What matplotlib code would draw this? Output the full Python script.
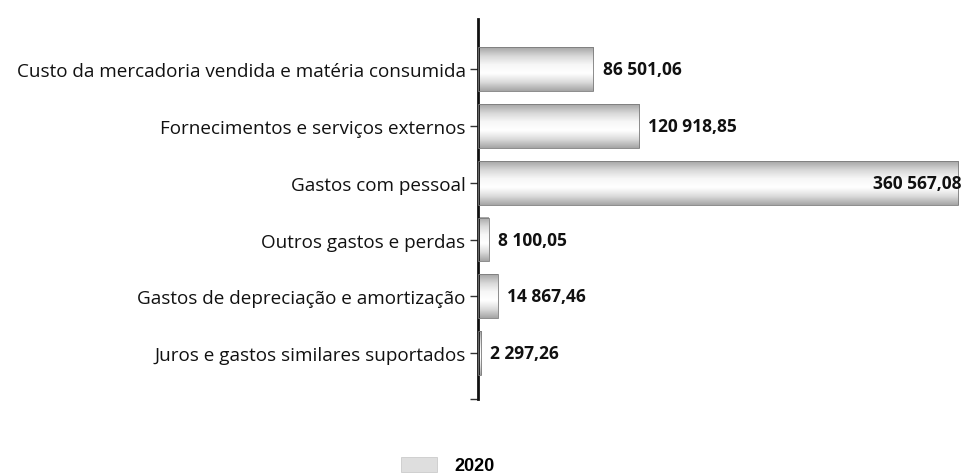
import numpy as np
import matplotlib
matplotlib.use("Agg")
from matplotlib import pyplot as plt
from matplotlib.colors import LinearSegmentedColormap
from matplotlib.patches import Patch

categories = [
    "Custo da mercadoria vendida e matéria consumida",
    "Fornecimentos e serviços externos",
    "Gastos com pessoal",
    "Outros gastos e perdas",
    "Gastos de depreciação e amortização",
    "Juros e gastos similares suportados",
]
values = [86501.06, 120918.85, 360567.08, 8100.05, 14867.46, 2297.26]
labels = ["86 501,06", "120 918,85", "360 567,08", "8 100,05", "14 867,46", "2 297,26"]
series_name = "2020"

fig = plt.figure(figsize=(9.63, 4.77), dpi=100)
ax = fig.add_axes([0.4964, 0.161, 0.5036, 0.797])

# cylinder-like grey shading: darker at the edges, white in the middle
cmap = LinearSegmentedColormap.from_list(
    "cyl", ["#a6a6a6", "#d8d8d8", "#f7f7f7", "#ffffff", "#dcdcdc", "#a6a6a6"])
grad = np.linspace(0, 1, 64).reshape(-1, 1)
h = 0.77
y = np.arange(len(categories))
for yi, v in zip(y, values):
    ax.imshow(grad, cmap=cmap, aspect="auto", interpolation="bilinear",
              extent=(0, v, yi + h / 2, yi - h / 2), zorder=2)
ax.barh(y, values, height=h, facecolor="none", edgecolor="#7a7a7a", linewidth=0.6, zorder=3)

xmax = 364000
for yi, v, lab in zip(y, values, labels):
    if v > 0.8 * xmax:
        ax.text(xmax * 0.997, yi, lab, ha="right", va="center", fontsize=12.5,
                fontweight="bold", family="Open Sans", color="#111111", zorder=4)
    else:
        ax.text(v + 7000, yi, lab, ha="left", va="center", fontsize=12.5,
                fontweight="bold", family="Open Sans", color="#111111", zorder=4)

ax.set_xlim(0, xmax)
ax.set_ylim(5.81, -0.88)
ax.set_yticks(y)
ax.set_yticklabels(categories, fontsize=13.6, family="Open Sans", color="#111111")
ax.set_yticks([5.81], minor=True)
ax.tick_params(axis="y", which="both", length=6, width=1, color="#333333", pad=3)
ax.set_xticks([])
for s in ["top", "right", "bottom"]:
    ax.spines[s].set_visible(False)
ax.spines["left"].set_linewidth(2)
ax.spines["left"].set_color("#111111")

leg_patch = Patch(facecolor="#dedede", edgecolor="#c4c4c4", linewidth=0.5)
fig.legend([leg_patch], [series_name], loc="center", bbox_to_anchor=(0.465, 0.022),
           frameon=False, prop={"family": "Liberation Sans", "weight": "bold", "size": 13},
           handlelength=2.0, handleheight=0.9, handletextpad=1.0)

fig.savefig("out.png", dpi=100)
